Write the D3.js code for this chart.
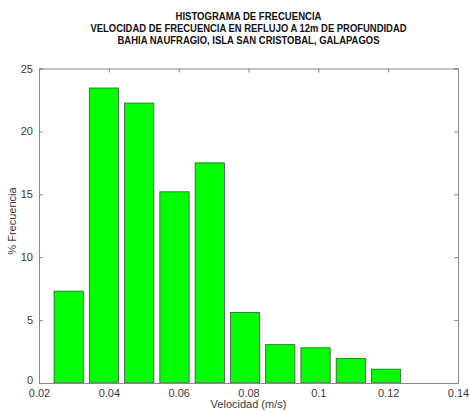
<!DOCTYPE html>
<html>
<head>
<meta charset="utf-8">
<script src="https://cdn.jsdelivr.net/npm/d3@7"></script>
<style>
  body { margin: 0; background: #fff; }
  svg text { font-family: "Liberation Sans", Arial, sans-serif; }
</style>
</head>
<body>
<svg width="469" height="412"></svg>
<script>
var svg = d3.select('svg');

// bin centres (m/s) and % frequency
var centers = [0.0285, 0.0386, 0.0487, 0.0588, 0.0689, 0.079, 0.0891, 0.0992, 0.1093, 0.1194];
var freq = [7.3, 23.45, 22.25, 15.2, 17.5, 5.6, 3.05, 2.8, 1.95, 1.1];
var xTicks = [0.02, 0.04, 0.06, 0.08, 0.1, 0.12, 0.14];
var yTicks = [0, 5, 10, 15, 20, 25];
var titleLines = [
    'HISTOGRAMA DE FRECUENCIA',
    'VELOCIDAD DE FRECUENCIA EN REFLUJO A 12m DE PROFUNDIDAD',
    'BAHIA NAUFRAGIO, ISLA SAN CRISTOBAL, GALAPAGOS'
];
var titleWidths = [146, 316, 262];
var binWidth = 0.0101;
var barFrac = 0.83;

var mLeft = 39, mRight = 458, mTop = 68.5, mBottom = 383;

var x = d3.scaleLinear().domain([0.02, 0.14]).range([mLeft, mRight]);
var y = d3.scaleLinear().domain([0, 25]).range([mBottom, mTop]);

// bars
svg.selectAll('rect.bar')
    .data(centers)
    .enter()
    .append('rect')
    .attr('class', 'bar')
    .attr('x', function(d){
        return x(d - binWidth * barFrac / 2)
    })
    .attr('width', function(d){
        return x(d + binWidth * barFrac / 2) - x(d - binWidth * barFrac / 2)
    })
    .attr('y', function(d, i){
        return y(freq[i])
    })
    .attr('height', function(d, i){
        return y(0) - y(freq[i])
    })
    .attr('fill', '#00ff00')
    .attr('stroke', '#4a4a4a')
    .attr('stroke-width', 0.8);

// box with inward ticks
var fmt = function(d){ return String(+d.toFixed(2)) };

svg.append('g')
    .attr('transform', 'translate(0,' + mBottom + ')')
    .call(d3.axisBottom(x).tickValues(xTicks).tickSize(-4).tickPadding(6).tickFormat(fmt));
svg.append('g')
    .attr('transform', 'translate(0,' + mTop + ')')
    .call(d3.axisTop(x).tickValues(xTicks).tickSize(-4).tickFormat(''));
var yAxis = svg.append('g')
    .attr('transform', 'translate(' + mLeft + ',0)')
    .call(d3.axisLeft(y).tickValues(yTicks).tickSize(-4).tickPadding(6));
svg.append('g')
    .attr('transform', 'translate(' + mRight + ',0)')
    .call(d3.axisRight(y).tickValues(yTicks).tickSize(-4).tickFormat(''));

svg.selectAll('.domain').attr('stroke', '#8a8a8a');
svg.selectAll('.tick line').attr('stroke', '#8a8a8a');
svg.selectAll('.tick text')
    .attr('fill', '#3a3a3a')
    .style('font-size', '11px')
    .style('font-family', '"Liberation Sans", Arial, sans-serif');

// the zero label sits a little higher, as in the original
yAxis.selectAll('.tick text').filter(function(d){ return d === 0 }).attr('dy', '0.05em');

// titles
svg.selectAll('text.title')
    .data(titleLines)
    .enter()
    .append('text')
    .attr('class', 'title')
    .attr('x', (mLeft + mRight) / 2)
    .attr('y', function(d, i){
        return 20 + i * 12
    })
    .attr('text-anchor', 'middle')
    .attr('textLength', function(d, i){
        return titleWidths[i]
    })
    .attr('lengthAdjust', 'spacingAndGlyphs')
    .style('font-size', '10px')
    .style('font-weight', 'bold')
    .attr('fill', '#111')
    .text(function(d){ return d });

// axis labels
svg.append('text')
    .attr('x', (mLeft + mRight) / 2)
    .attr('y', 408)
    .attr('text-anchor', 'middle')
    .style('font-size', '11px')
    .attr('fill', '#3a3a3a')
    .text('Velocidad (m/s)');

svg.append('text')
    .attr('transform', 'translate(16,' + 221 + ') rotate(-90)')
    .attr('text-anchor', 'middle')
    .style('font-size', '11px')
    .attr('fill', '#3a3a3a')
    .text('% Frecuencia');
</script>
</body>
</html>
